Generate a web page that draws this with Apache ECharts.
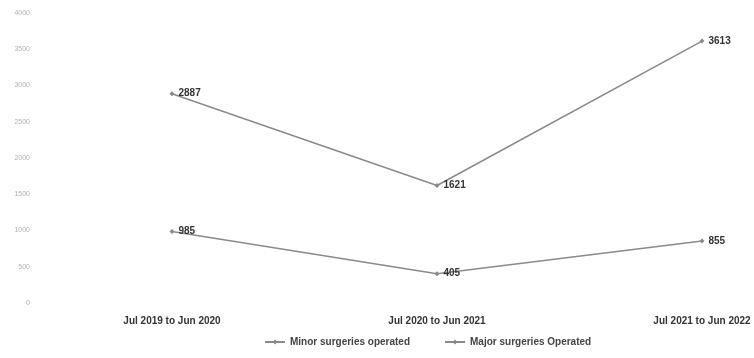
<!DOCTYPE html>
<html>
<head>
<meta charset="utf-8">
<style>
  html, body { margin: 0; padding: 0; background: #fff; }
  #chart { width: 754px; height: 358px; }
</style>
<script src="https://cdn.jsdelivr.net/npm/echarts@6/dist/echarts.min.js"></script>
</head>
<body>
<div id="chart"></div>
<script>
// Surgery counts per financial year
const categories = ['Jul 2019 to Jun 2020', 'Jul 2020 to Jun 2021', 'Jul 2021 to Jun 2022'];
const minorSurgeries = [2887, 1621, 3613];
const majorSurgeries = [985, 405, 855];
const seriesNames = ['Minor surgeries operated', 'Major surgeries Operated'];

const chart = echarts.init(document.getElementById('chart'));

function lineSeries(name, data) {
  return {
    name: name,
    type: 'line',
    data: data,
    symbol: 'diamond',
    symbolSize: 5,
    lineStyle: { color: '#8a8a8a', width: 1.5 },
    itemStyle: { color: '#8a8a8a' },
    label: {
      show: true,
      position: 'right',
      distance: 4,
      color: '#333',
      fontFamily: 'Liberation Sans',
      fontWeight: 'bold',
      fontSize: 10
    }
  };
}

chart.setOption({
  animation: false,
  backgroundColor: '#fff',
  grid: { left: 172, right: 52, top: 13, bottom: 55 },
  legend: {
    bottom: 6,
    left: 259,
    itemWidth: 20,
    itemHeight: 6,
    itemGap: 34,
    textStyle: { color: '#444', fontSize: 10, fontWeight: 'bold', fontFamily: 'Liberation Sans' },
    data: seriesNames
  },
  xAxis: {
    type: 'category',
    data: categories,
    boundaryGap: false,
    axisLine: { show: false },
    axisTick: { show: false },
    axisLabel: {
      margin: 13,
      color: '#333',
      fontSize: 10,
      fontWeight: 'bold',
      fontFamily: 'Liberation Sans'
    }
  },
  yAxis: {
    type: 'value',
    min: 0,
    max: 4000,
    interval: 500,
    splitLine: { show: false },
    axisLine: { show: false },
    axisTick: { show: false },
    axisLabel: {
      margin: 142,
      color: '#b0b0b0',
      fontSize: 7,
      fontFamily: 'Liberation Sans',
      formatter: function (v) { return String(v); }
    }
  },
  series: [
    lineSeries(seriesNames[0], minorSurgeries),
    lineSeries(seriesNames[1], majorSurgeries)
  ]
});
</script>
</body>
</html>
